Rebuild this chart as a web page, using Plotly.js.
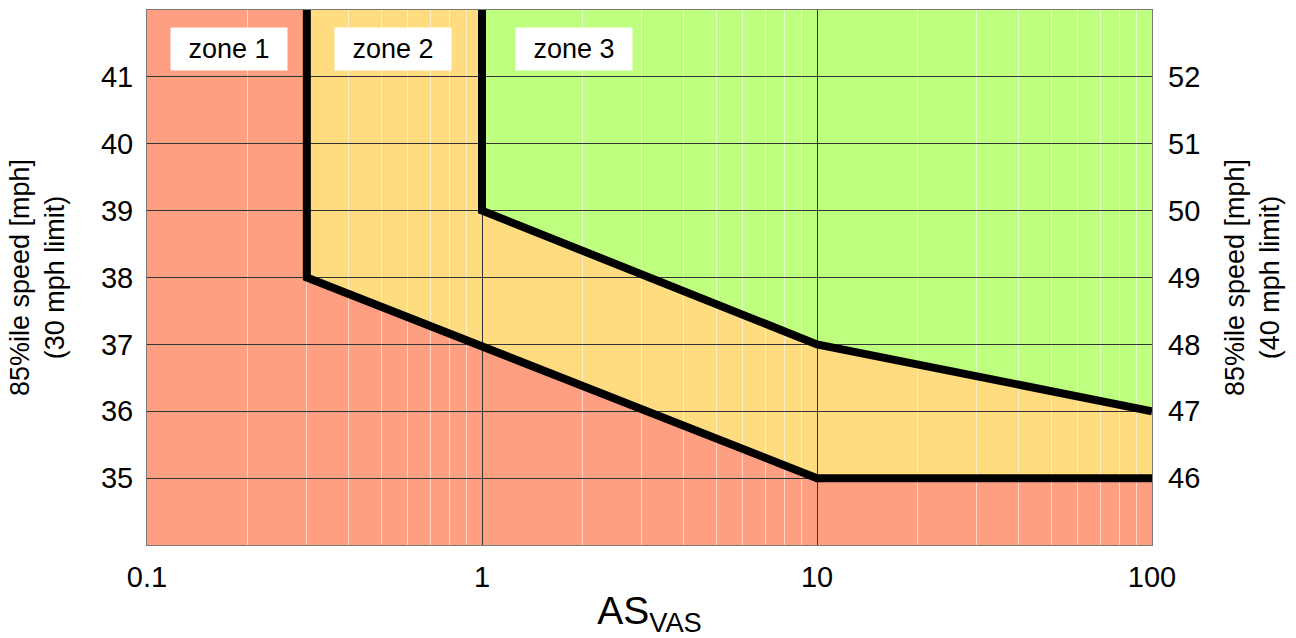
<!DOCTYPE html>
<html><head><meta charset="utf-8">
<script src="https://cdn.plot.ly/plotly-3.0.1.min.js"></script>
<style>html,body{margin:0;padding:0;background:#fff}</style>
</head><body><div id="chart" style="width:1296px;height:638px"></div>
<script>
const xRange = [0.1, 100];
const yRange = [34, 42];
const rightRange = [45, 53];
const lowerBoundX = [0.3, 0.3, 10, 100];
const lowerBoundY = [42, 38, 35, 35];
const upperBoundX = [1, 1, 10, 100];
const upperBoundY = [42, 39, 37, 36];
const leftTicks = [35, 36, 37, 38, 39, 40, 41];
const rightTicks = [46, 47, 48, 49, 50, 51, 52];
const xTicks = [0.1, 1, 10, 100];
const xTickText = ['0.1', '1', '10', '100'];
const zoneNames = ['zone 1', 'zone 2', 'zone 3'];
const zoneLabelPos = [0.0817, 0.2445, 0.4253];
const zoneColors = ['#FD9F80', '#FFDC80', '#BFFF80'];

const FONT = 'Liberation Sans, Arial, sans-serif';

function path(xs, ys) {
  return 'M ' + xs.map((x, i) => x + ',' + ys[i]).join(' L ') + ' Z';
}
const z1x = [xRange[0], xRange[0]].concat(lowerBoundX, [xRange[1]]);
const z1y = [yRange[0], yRange[1]].concat(lowerBoundY, [yRange[0]]);
const z2x = lowerBoundX.concat(upperBoundX.slice().reverse());
const z2y = lowerBoundY.concat(upperBoundY.slice().reverse());
const z3x = upperBoundX.concat([xRange[1]]);
const z3y = upperBoundY.concat([yRange[1]]);
const polys = [[z1x, z1y], [z2x, z2y], [z3x, z3y]];

const shapes = polys.map((p, i) => ({
  type: 'path', xref: 'x', yref: 'y', layer: 'below',
  path: path(p[0], p[1]),
  fillcolor: zoneColors[i], line: {width: 0}
}));

const traces = [
  {x: lowerBoundX, y: lowerBoundY, mode: 'lines', line: {color: '#000', width: 8}, hoverinfo: 'skip', showlegend: false},
  {x: upperBoundX, y: upperBoundY, mode: 'lines', line: {color: '#000', width: 8}, hoverinfo: 'skip', showlegend: false},
  {x: [xRange[0]], y: [rightRange[0]], yaxis: 'y2', mode: 'markers', marker: {opacity: 0}, hoverinfo: 'skip', showlegend: false}
];

const annotations = zoneNames.map((t, i) => ({
  xref: 'paper', yref: 'paper', x: zoneLabelPos[i], y: 0.927,
  xanchor: 'center', yanchor: 'middle',
  text: t, showarrow: false, bgcolor: '#fff', width: 114, height: 40,
  font: {family: FONT, size: 27, color: '#000'}
}));

const layout = {
  width: 1296, height: 638,
  margin: {l: 147, r: 144, t: 10, b: 93},
  paper_bgcolor: '#fff', plot_bgcolor: '#fff',
  font: {family: FONT, size: 28, color: '#000'},
  shapes: shapes, annotations: annotations,
  xaxis: {
    type: 'log', range: xRange.map(Math.log10),
    tickvals: xTicks, ticktext: xTickText, ticks: '',
    showgrid: true, gridcolor: '#333333', gridwidth: 1,
    minor: {dtick: 'D1', showgrid: true, gridcolor: 'rgba(255,255,255,0.55)', gridwidth: 1},
    showline: true, linecolor: '#7a7a7a', linewidth: 1, mirror: true,
    zeroline: false, ticklabelstandoff: 6,
    tickfont: {family: FONT, size: 29},
    title: {text: 'AS<sub>VAS</sub>', font: {family: FONT, size: 39}, standoff: 6}
  },
  yaxis: {
    range: yRange, tickvals: leftTicks, ticks: '',
    showgrid: true, gridcolor: '#333333', gridwidth: 1,
    showline: true, linecolor: '#7a7a7a', linewidth: 1, mirror: true,
    zeroline: false, ticklabelstandoff: 7,
    tickfont: {family: FONT, size: 29},
    title: {text: '85%ile speed [mph]<br>(30 mph limit)', font: {family: FONT, size: 27}, standoff: 28}
  },
  yaxis2: {
    overlaying: 'y', side: 'right', range: rightRange, tickvals: rightTicks, ticks: '',
    showgrid: false, zeroline: false, showline: false, ticklabelstandoff: 15,
    tickfont: {family: FONT, size: 29},
    title: {text: '85%ile speed [mph]<br>(40 mph limit)', font: {family: FONT, size: 27}, standoff: 25}
  }
};

Plotly.newPlot('chart', traces, layout, {displayModeBar: false, staticPlot: true});
</script>
</body></html>
